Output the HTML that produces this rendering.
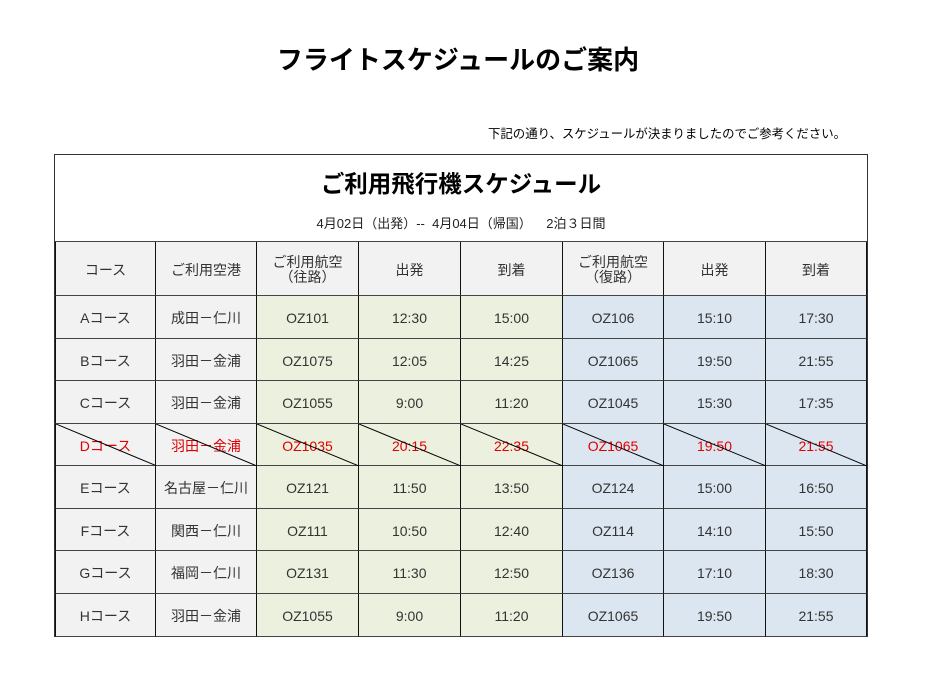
<!DOCTYPE html>
<html><head><meta charset="utf-8"><style>
body{margin:0;width:926px;height:694px;background:#fff;position:relative;font-family:"Liberation Sans","Noto Sans CJK JP",sans-serif;overflow:hidden}
.a{position:absolute}
.c{position:absolute;display:flex;align-items:center;justify-content:center;text-align:center;font-size:14px;color:#333;box-sizing:border-box;border-right:1px solid #111;border-bottom:1px solid #444;line-height:1.05;padding-top:3px}
.g{background:#f2f2f2}.gr{background:#ebf1de}.bl{background:#dce6f1}
.d{color:#e00000}
</style></head><body>
<div class="a" style="left:0;width:916px;top:40px;text-align:center;font-size:26px;font-weight:bold;color:#000">フライトスケジュールのご案内</div>
<div class="a" style="right:80px;top:124px;font-size:12.4px;color:#000">下記の通り、スケジュールが決まりましたのでご参考ください。</div>
<div class="a" style="left:54px;top:154px;width:812px;height:482px;border:1px solid #333;border-bottom:none;border-right:1px solid #333"></div>
<div class="a" style="left:55px;width:812px;top:165px;text-align:center;font-size:23.5px;font-weight:bold;color:#000">ご利用飛行機スケジュール</div>
<div class="a" style="left:55px;width:812px;top:213px;text-align:center;font-size:13px;color:#222">4月02日（出発）--&nbsp; 4月04日（帰国）&nbsp;&nbsp;&nbsp; 2泊３日間</div>
<div class="a" style="left:55px;top:241px;width:812px;height:1px;background:#444"></div>
<div id="t"></div>
<script>
var xs=[55,156,257,359,461,563,664,766,867];
var ys=[242,296,339,381,424,466,509,551,594,637];
var rows=[
["コース","ご利用空港","ご利用航空<br>（往路）","出発","到着","ご利用航空<br>（復路）","出発","到着"],
["Aコース","成田－仁川","OZ101","12:30","15:00","OZ106","15:10","17:30"],
["Bコース","羽田－金浦","OZ1075","12:05","14:25","OZ1065","19:50","21:55"],
["Cコース","羽田－金浦","OZ1055","9:00","11:20","OZ1045","15:30","17:35"],
["Dコース","羽田－金浦","OZ1035","20:15","22:35","OZ1065","19:50","21:55"],
["Eコース","名古屋－仁川","OZ121","11:50","13:50","OZ124","15:00","16:50"],
["Fコース","関西－仁川","OZ111","10:50","12:40","OZ114","14:10","15:50"],
["Gコース","福岡－仁川","OZ131","11:30","12:50","OZ136","17:10","18:30"],
["Hコース","羽田－金浦","OZ1055","9:00","11:20","OZ1065","19:50","21:55"]];
var h="";
for(var r=0;r<rows.length;r++)for(var c=0;c<8;c++){
 var cls="c ";
 if(r==0||c<2)cls+="g";else if(c<5)cls+="gr";else cls+="bl";
 if(r==4)cls+=" d";
 var w=xs[c+1]-xs[c],hh=ys[r+1]-ys[r];
 var st="left:"+xs[c]+"px;top:"+ys[r]+"px;width:"+w+"px;height:"+hh+"px;";
 if(c==0)st+="border-left:1px solid #111;";
 var inner=rows[r][c];
 if(r==4)inner+='<svg class="a" style="left:0;top:0" width="'+w+'" height="'+hh+'"><line x1="0" y1="0" x2="'+w+'" y2="'+hh+'" stroke="#000" stroke-width="1"/></svg>';
 h+='<div class="'+cls+'" style="'+st+'">'+inner+'</div>';
}
document.getElementById("t").innerHTML=h;
</script>
</body></html>
